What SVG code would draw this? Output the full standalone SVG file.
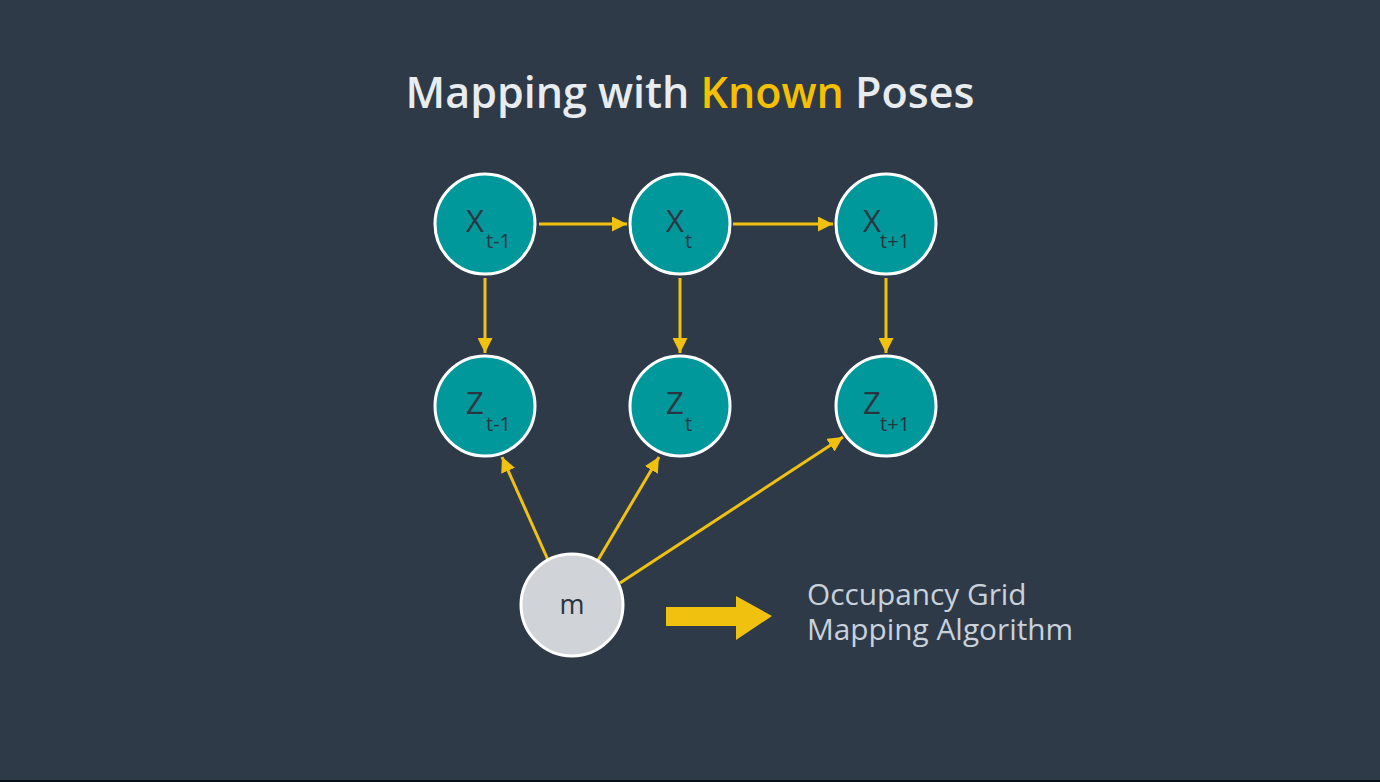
<svg xmlns="http://www.w3.org/2000/svg" width="1380" height="782" viewBox="0 0 1380 782">
<defs>
<style>
.node{fill:#00989a;stroke:#ffffff;stroke-width:3}
.mnode{fill:#d0d3d8;stroke:#ffffff;stroke-width:3}
.lbl{font-family:"Open Sans","Liberation Sans",sans-serif;fill:#2a3542}
.big{font-size:31px}
.sub{font-size:20px}
.edge{stroke:#f0c20f;stroke-width:3;fill:none;marker-end:url(#ah)}
.title{font-family:"Open Sans","Liberation Sans",sans-serif;font-size:43px;font-weight:600;fill:#e9ecef}
.note{font-family:"Open Sans","Liberation Sans",sans-serif;font-size:29.8px;fill:#c9d1db}
</style>
<marker id="ah" viewBox="0 0 10 10" refX="10" refY="5" markerWidth="5" markerHeight="5" orient="auto" markerUnits="strokeWidth">
<path d="M0,0 L10,5 L0,10 z" fill="#f0c20f"/>
</marker>
</defs>
<rect width="1380" height="782" fill="#2f3a48"/>
<rect x="0" y="780" width="1380" height="2" fill="#0a0d12"/>
<text class="title" x="690" y="108" text-anchor="middle">Mapping with <tspan fill="#f5c000">Known</tspan> Poses</text>

<g id="connectors">
<line class="edge" x1="539" y1="224" x2="627" y2="224"/>
<line class="edge" x1="733" y1="224" x2="833" y2="224"/>
<line class="edge" x1="485" y1="278" x2="485" y2="353"/>
<line class="edge" x1="680" y1="278" x2="680" y2="353"/>
<line class="edge" x1="886" y1="278" x2="886" y2="353"/>
<line class="edge" x1="548" y1="560" x2="502" y2="457"/>
<line class="edge" x1="598" y1="560" x2="659" y2="457"/>
<line class="edge" x1="620" y1="583" x2="843" y2="437"/>
</g>

<g id="node-xt-1">
<circle class="node" cx="485" cy="224" r="50"/>
<text class="lbl big" x="466" y="232">X</text><text class="lbl sub" x="486" y="248">t-1</text>
</g>
<g id="node-xt">
<circle class="node" cx="680" cy="224" r="50"/>
<text class="lbl big" x="666" y="232">X</text><text class="lbl sub" x="685" y="248">t</text>
</g>
<g id="node-xt+1">
<circle class="node" cx="886" cy="224" r="50"/>
<text class="lbl big" x="863" y="232">X</text><text class="lbl sub" x="880" y="248">t+1</text>
</g>
<g id="node-zt-1">
<circle class="node" cx="485" cy="406" r="50"/>
<text class="lbl big" x="466" y="414">Z</text><text class="lbl sub" x="486" y="431">t-1</text>
</g>
<g id="node-zt">
<circle class="node" cx="680" cy="406" r="50"/>
<text class="lbl big" x="666" y="414">Z</text><text class="lbl sub" x="685" y="431">t</text>
</g>
<g id="node-zt+1">
<circle class="node" cx="886" cy="406" r="50"/>
<text class="lbl big" x="863" y="414">Z</text><text class="lbl sub" x="880" y="431">t+1</text>
</g>
<g id="node-m">
<circle class="mnode" cx="572" cy="605" r="51"/>
<text class="lbl" x="572" y="614" font-size="27" text-anchor="middle">m</text>
</g>

<g id="block-arrow">
<path d="M666,607 L736,607 L736,596 L772,616 L736,640 L736,626 L666,626 z" fill="#f0c20f"/>
</g>
<g id="note">
<text class="note" x="807" y="605">Occupancy Grid<tspan x="807" dy="35">Mapping Algorithm</tspan></text>
</g>
</svg>
